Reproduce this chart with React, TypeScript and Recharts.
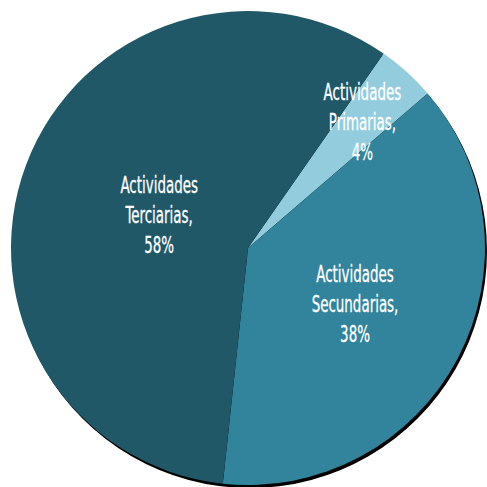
import { PieChart, Pie, Cell } from 'recharts';

const categories = ['Actividades Primarias', 'Actividades Secundarias', 'Actividades Terciarias'];
const values = [4, 38, 58];

const colors = ['#93CDDD', '#31849B', '#215868'];
// how far out (as a share of the radius) each label sits
const labelRadius = [0.72, 0.51, 0.4];

const data = categories.map((name, i) => ({ name, value: values[i] }));
const shadow = [{ name: 'shadow', value: 1 }];

const RAD = Math.PI / 180;

function renderLabel(props: any) {
  const { cx, cy, midAngle, outerRadius, index, name, value } = props;
  const r = outerRadius * labelRadius[index];
  const x = cx + r * Math.cos(-midAngle * RAD);
  const y = cy + r * Math.sin(-midAngle * RAD);
  const words = String(name).split(' ');
  const lines = [words[0], words[1] + ',', `${value}%`];
  return (
    <text
      transform={`translate(${x},${y}) scale(0.65,1)`}
      textAnchor="middle"
      dominantBaseline="central"
      fill="#ffffff"
      fontSize={23}
      fontFamily="'DejaVu Sans Condensed', 'DejaVu Sans', sans-serif"
      stroke="#ffffff"
      strokeWidth={0.3}
    >
      {lines.map((l, i) => (
        <tspan key={i} x={0} y={(i - 1) * 30}>
          {l}
        </tspan>
      ))}
    </text>
  );
}

export default function App() {
  return (
    <div style={{ position: 'fixed', left: 0, top: 0, width: 487, height: 487, background: '#fff' }}>
      <PieChart width={487} height={487} margin={{ top: 0, right: 0, bottom: 0, left: 0 }}>
        <Pie
          data={shadow}
          dataKey="value"
          cx={250}
          cy={251}
          outerRadius={237}
          fill="#000"
          stroke="none"
          isAnimationActive={false}
        />
        <Pie
          data={data}
          dataKey="value"
          nameKey="name"
          cx={248}
          cy={248}
          outerRadius={237}
          startAngle={55.1}
          endAngle={55.1 - 360}
          stroke="none"
          label={renderLabel}
          labelLine={false}
          isAnimationActive={false}
        >
          {data.map((d, i) => (
            <Cell key={d.name} fill={colors[i]} />
          ))}
        </Pie>
      </PieChart>
    </div>
  );
}
